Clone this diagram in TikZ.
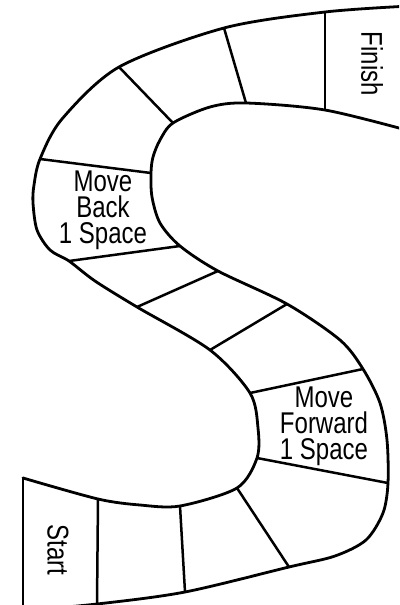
\documentclass[tikz,border=0pt]{standalone}
\usepackage{fontspec}
\setmainfont{Liberation Sans}[FakeStretch=0.8]
\begin{document}
\begin{tikzpicture}[x=1pt,y=-1pt,
  edge/.style={line width=2.8pt, line join=round, line cap=round},
  divider/.style={line width=2.5pt},
  label/.style={inner sep=0pt, font=\fontsize{30}{26}\selectfont, align=center}]
\useasboundingbox (0,0) rectangle (399,605);
\clip (0,0) rectangle (399,605);
% boundary A (outer top-left, inner bottom-right)
\coordinate (a0) at (410,6);
\coordinate (a1) at (325,12);
\coordinate (a2) at (224,28);
\coordinate (a3) at (119,67);
\coordinate (a3b) at (62,119);
\coordinate (a4) at (40,159);
\coordinate (a4a) at (34,185);
\coordinate (a4b) at (33,203);
\coordinate (a4c) at (37,230);
\coordinate (a4d) at (50,250);
\coordinate (a5) at (69,261);
\coordinate (a5b) at (95,281);
\coordinate (a6) at (137,307);
\coordinate (a7) at (210,350);
\coordinate (a8) at (250,393);
\coordinate (a8b) at (258,428);
\coordinate (a9) at (257,458);
\coordinate (a10) at (237,488);
\coordinate (a11) at (180,506);
\coordinate (a11b) at (140,505);
\coordinate (a12) at (98,499);
\coordinate (a13) at (23,478);
% boundary B
\coordinate (b0) at (410,131);
\coordinate (b1) at (325,110);
\coordinate (b2) at (246,103);
\coordinate (b2b) at (210,107);
\coordinate (b3) at (173,123);
\coordinate (b3a) at (160,140);
\coordinate (b3b) at (153,157);
\coordinate (b4) at (151,173);
\coordinate (b4a) at (152,197);
\coordinate (b4b) at (160,223);
\coordinate (b5) at (180,246);
\coordinate (b6) at (218,271);
\coordinate (b7) at (287,304);
\coordinate (b7b) at (340,340);
\coordinate (b8) at (363,369);
\coordinate (b8a) at (380,403);
\coordinate (b8b) at (387,440);
\coordinate (b9) at (388,483);
\coordinate (b9a) at (383,513);
\coordinate (b9b) at (366,540);
\coordinate (b9c) at (335,556);
\coordinate (b10) at (289,567);
\coordinate (b11) at (185,592);
\coordinate (b12) at (97,604);
\coordinate (b13) at (10,612);
\coordinate (s0) at (23,620);
\draw[edge] plot[smooth, tension=0.5] coordinates {(a0) (a1) (a2) (a3) (a3b) (a4) (a4a) (a4b) (a4c) (a4d) (a5) (a5b) (a6) (a7) (a8) (a8b) (a9) (a10) (a11) (a11b) (a12) (a13)};
\draw[edge] plot[smooth, tension=0.5] coordinates {(b0) (b1) (b2) (b2b) (b3) (b3a) (b3b) (b4) (b4a) (b4b) (b5) (b6) (b7) (b7b) (b8) (b8a) (b8b) (b9) (b9a) (b9b) (b9c) (b10) (b11) (b12) (b13)};
\draw[edge] (a13) -- (s0);
\draw[divider] (a1) -- (b1);
\draw[divider] (a2) -- (b2);
\draw[divider] (a3) -- (b3);
\draw[divider] (a4) -- (b4);
\draw[divider] (a5) -- (b5);
\draw[divider] (a6) -- (b6);
\draw[divider] (a7) -- (b7);
\draw[divider] (a8) -- (b8);
\draw[divider] (a9) -- (b9);
\draw[divider] (a10) -- (b10);
\draw[divider] (a11) -- (b11);
\draw[divider] (a12) -- (b12);
\node[label, rotate=-90] (finish) at (372,64) {Finish};
\node[label, rotate=-90] (start) at (58,550) {Start};
\node[label] (back) at (103,210) {Move\\Back\\1 Space};
\node[label] (forward) at (324,426) {Move\\Forward\\1 Space};
\end{tikzpicture}
\end{document}
